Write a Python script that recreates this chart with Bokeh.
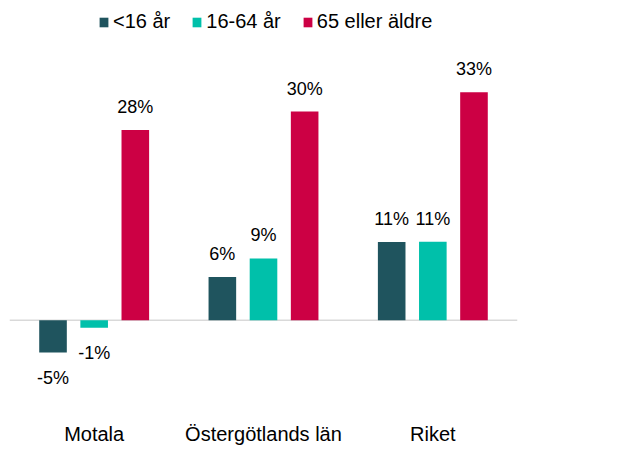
from bokeh.plotting import figure
from bokeh.models import ColumnDataSource, FactorRange, Range1d, Span
from bokeh.transform import dodge
from bokeh.core.properties import value
from bokeh.embed import file_html
from bokeh.resources import INLINE

groups = ["Motala", "Östergötlands län", "Riket"]
series_names = ["<16 år", "16-64 år", "65 eller äldre"]
under16 = [-4.7, 6.3, 11.4]
age16_64 = [-1.1, 9.0, 11.45]
over65 = [27.7, 30.4, 33.2]
colors = ["#1f545e", "#00c0aa", "#cc0044"]

FONT = "Liberation Sans"


def pct(v):
    s = -1 if v < 0 else 1
    return f"{s * int(abs(v) + 0.5)}%"


p = figure(
    width=614, height=447,
    x_range=FactorRange(factors=groups, range_padding=0),
    y_range=Range1d(-13.14, 45.55),
    output_backend="svg", toolbar_location=None,
    min_border_left=9, min_border_right=97, min_border_top=7, min_border_bottom=30,
)
p.outline_line_color = None
p.grid.visible = False
p.yaxis.visible = False
p.background_fill_color = "white"
p.border_fill_color = "white"

p.add_layout(Span(location=0, dimension="width", line_color="#d9d9d9",
                  line_width=1.5, level="underlay"))

offsets = [-0.243, 0.0, 0.243]
for name, vals, col, off in zip(series_names, [under16, age16_64, over65], colors, offsets):
    src = ColumnDataSource(dict(
        g=groups, v=vals, lab=[pct(v) for v in vals],
        yoff=[-23 if v >= 0 else 25 for v in vals],
    ))
    p.vbar(x=dodge("g", off, range=p.x_range), top="v", bottom=0, width=0.163,
           source=src, fill_color=col, line_color=None, legend_label=name)
    p.text(x=dodge("g", off, range=p.x_range), y="v", text="lab", source=src,
           y_offset="yoff", text_align="center", text_baseline="alphabetic",
           text_font=value(FONT), text_font_size="18px", text_color="#000000")

xa = p.xaxis[0]
xa.axis_line_color = None
xa.major_tick_line_color = None
xa.minor_tick_line_color = None
xa.major_tick_out = 0
xa.major_label_standoff = 12
xa.major_label_text_font = FONT
xa.major_label_text_font_size = "20px"
xa.major_label_text_color = "#000000"

lg = p.legend[0]
lg.orientation = "horizontal"
lg.location = (89, 377)
lg.border_line_color = None
lg.background_fill_alpha = 0
lg.padding = 0
lg.margin = 0
lg.spacing = 21
lg.label_standoff = 4
lg.glyph_width = 11
lg.glyph_height = 12
lg.label_text_font = FONT
lg.label_text_font_size = "20px"
lg.label_text_color = "#000000"

open("out.html", "w").write(file_html(p, INLINE))
